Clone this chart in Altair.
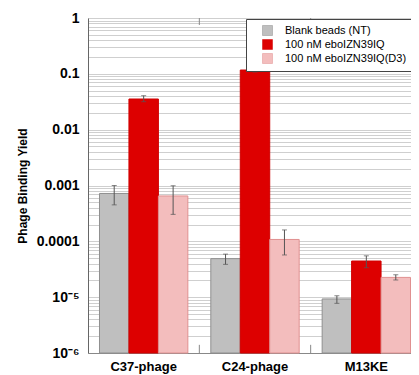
import altair as alt
import pandas as pd

categories = ["C37-phage", "C24-phage", "M13KE"]
series = ["Blank beads (NT)", "100 nM eboIZN39IQ", "100 nM eboIZN39IQ(D3)"]
values = {
    "Blank beads (NT)": [7.2e-4, 4.9e-5, 9.3e-6],
    "100 nM eboIZN39IQ": [0.0354, 0.117, 4.44e-5],
    "100 nM eboIZN39IQ(D3)": [6.5e-4, 1.08e-4, 2.26e-5],
}
err_hi = {
    "Blank beads (NT)": [1.0e-3, 5.9e-5, 1.06e-5],
    "100 nM eboIZN39IQ": [0.0406, 0.122, 5.5e-5],
    "100 nM eboIZN39IQ(D3)": [9.9e-4, 1.6e-4, 2.52e-5],
}
err_lo = {
    "Blank beads (NT)": [4.5e-4, 3.87e-5, 7.76e-6],
    "100 nM eboIZN39IQ": [0.0317, 0.108, 3.37e-5],
    "100 nM eboIZN39IQ(D3)": [3.04e-4, 5.7e-5, 2.03e-5],
}
fill_colors = ["#bfbfbf", "#dd0000", "#f3bdbd"]
stroke_colors = ["#8f8f8f", "#d00000", "#e09090"]

decades = [1e-6, 1e-5, 1e-4, 1e-3, 1e-2, 1e-1, 1]
decade_labels = ["10⁻⁶", "10⁻⁵", "0.0001", "0.001", "0.01", "0.1", "1"]

# category boundaries where the frame shows small inward ticks
boundary_cats = ["C24-phage", "M13KE"]

rows = []
for s in series:
    for i, c in enumerate(categories):
        rows.append({"cat": c, "series": s, "v": values[s][i],
                     "hi": err_hi[s][i], "lo": err_lo[s][i]})
df = pd.DataFrame(rows)

grid_vals = []
for d in decades[:-1]:
    for k in range(1, 10):
        grid_vals.append(round(d * k, 12))
grid_vals.append(1)

label_expr = ""
for d, l in zip(decades, decade_labels):
    label_expr += f"abs(datum.value - {d}) < {d}*1e-6 ? '{l}' : "
label_expr += "''"

FONT = "Liberation Sans"
yscale = alt.Scale(type="log", domain=[1e-6, 1])
xscale = alt.Scale(domain=categories, paddingInner=0, paddingOuter=0)
xenc = alt.X("cat:N", sort=categories, title=None, scale=xscale,
             axis=alt.Axis(labelFontSize=13, labelFontWeight="bold", labelColor="#000",
                           labelFont=FONT, labelPadding=7, ticks=False,
                           domainColor="#888", labelAngle=0))
xoff = alt.XOffset("series:N", sort=series,
                   scale=alt.Scale(paddingInner=0, paddingOuter=0.39))

base = alt.Chart(df)

bars = base.mark_bar(strokeWidth=1).encode(
    x=xenc,
    xOffset=xoff,
    y=alt.Y("v:Q", scale=yscale, title="Phage Binding Yield",
            axis=alt.Axis(values=grid_vals, labelExpr=label_expr,
                          labelFontSize=14, labelFontWeight="bold", labelColor="#000",
                          labelFont=FONT, labelPadding=9,
                          ticks=False, tickSize=0, gridColor="#cfcfcf",
                          domainColor="#666", labelOverlap=False,
                          titleFontSize=12, titleFont=FONT,
                          titleFontWeight="bold", titleColor="#000", titlePadding=7)),
    y2=alt.datum(1e-6),
    fill=alt.Fill("series:N", sort=series,
                  scale=alt.Scale(domain=series, range=fill_colors),
                  legend=alt.Legend(title=None, orient="none", legendX=158, legendY=1,
                                    symbolType="square", symbolSize=100,
                                    symbolStrokeColor="#999", symbolStrokeWidth=0.5,
                                    symbolOffset=10,
                                    labelFontSize=11, labelFont=FONT,
                                    labelColor="#000", rowPadding=1,
                                    fillColor="white", strokeColor="#444",
                                    padding=6, offset=0, labelOffset=12)),
    stroke=alt.Stroke("series:N", sort=series,
                      scale=alt.Scale(domain=series, range=stroke_colors), legend=None),
)

errs = base.mark_rule(color="#555", strokeWidth=1).encode(
    x=alt.X("cat:N", sort=categories, scale=xscale),
    xOffset=xoff,
    y=alt.Y("lo:Q", scale=yscale),
    y2="hi:Q",
)
caps_hi = base.mark_tick(color="#555", thickness=1, size=5, orient="horizontal").encode(
    x=alt.X("cat:N", sort=categories, scale=xscale), xOffset=xoff,
    y=alt.Y("hi:Q", scale=yscale))
caps_lo = base.mark_tick(color="#555", thickness=1, size=5, orient="horizontal").encode(
    x=alt.X("cat:N", sort=categories, scale=xscale), xOffset=xoff,
    y=alt.Y("lo:Q", scale=yscale))

bdf = pd.DataFrame({"cat": boundary_cats})
bticks_bottom = alt.Chart(bdf).mark_rule(color="#888", strokeWidth=1).encode(
    x=alt.X("cat:N", sort=categories, scale=xscale, bandPosition=0),
    y=alt.datum(1e-6, scale=yscale), y2=alt.datum(1.4e-6))
bticks_top = alt.Chart(bdf).mark_rule(color="#888", strokeWidth=1).encode(
    x=alt.X("cat:N", sort=categories, scale=xscale, bandPosition=0),
    y=alt.datum(1, scale=yscale), y2=alt.datum(0.75))

chart = alt.layer(bars, errs, caps_hi, caps_lo, bticks_bottom, bticks_top).properties(
    width=334, height=335,
    autosize=alt.AutoSizeParams(type="none"),
    padding={"left": 80, "top": 10, "right": -11, "bottom": 22},
).configure_view(stroke="#888", strokeWidth=1).configure(background="white")

chart.save("out.html", embed_options={"renderer": "svg", "actions": False})
